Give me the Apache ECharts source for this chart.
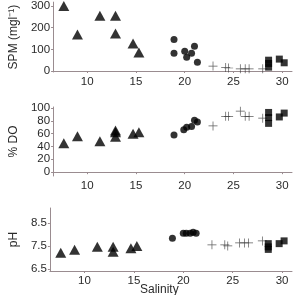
<!DOCTYPE html>
<html>
<head>
<meta charset="utf-8">
<script src="https://cdn.jsdelivr.net/npm/echarts@6/dist/echarts.min.js"></script>
<style>
  html, body { margin: 0; padding: 0; background: #fff; }
  #chart { width: 295px; height: 295px; }
</style>
</head>
<body>
<div id="chart"></div>
<script>
// salinity / value pairs per sampling group
const triSal = [7.6, 9.0, 11.3, 12.9, 12.9, 14.7, 15.3]
const triSPM = [300, 168, 255, 255, 173, 127, 86]
const triDOSal = [7.6, 9.0, 11.3, 12.9, 12.9, 12.9, 14.7, 15.3]
const triDO = [45, 56, 48, 62, 55, 65, 60, 62]
const triPHSal = [7.6, 9.0, 11.3, 12.9, 12.9, 14.7, 15.3]
const triPH = [7.2, 7.33, 7.46, 7.46, 7.25, 7.4, 7.5]

const cirSPMSal = [18.9, 18.9, 20.0, 20.2, 20.7, 21.0, 21.3]
const cirSPM = [145, 82, 91, 64, 82, 114, 41]
const cirDOSal = [18.9, 19.9, 20.2, 20.7, 21.0, 21.3]
const cirDO = [58, 66, 70, 71, 81, 78]
const cirPHSal = [18.9, 20.0, 20.3, 20.7, 21.0, 21.3]
const cirPH = [7.83, 8.05, 8.05, 8.05, 8.1, 8.05]

const crsSal = [22.9, 24.2, 24.5, 25.7, 26.2, 26.6, 28.0]
const crsSPM = [23, 16, 14, 10, 10, 10, 10]
const crsDO = [72, 87, 87, 95, 87, 87, 84]
const crsPH = [7.55, 7.55, 7.5, 7.63, 7.63, 7.63, 7.72]

const sqSal = [28.6, 28.6, 28.6, 29.7, 30.2]
const sqSPM = [50, 35, 18, 55, 38]
const sqDO = [93, 85, 76, 86, 92]
const sqPH = [7.6, 7.46, 7.35, 7.6, 7.72]

const xTicks = [10, 15, 20, 25, 30]
const spmTicks = [0, 100, 200, 300]
const doTicks = [0, 20, 40, 60, 80, 100]
const phTicks = [6.5, 7.5, 8.5]

const pairs = (xs, ys) => xs.map((x, i) => [x, ys[i]])

const axisColor = '#9a8c90'
const labelColor = '#2a2a2a'
const font = 'Liberation Sans'
const crossPath = 'path://M4.6,0H5.4V4.6H10V5.4H5.4V10H4.6V5.4H0V4.6H4.6Z'

const chart = echarts.init(document.getElementById('chart'))

const grids = [
  { left: 42, right: 3, top: 1, height: 71 },
  { left: 42, right: 3, top: 107, height: 69 },
  { left: 42, right: 3, top: 208, height: 63 }
]

const xAxes = grids.map((g, i) => ({
  type: 'value',
  gridIndex: i,
  min: 6.5,
  max: 31,
  splitLine: { show: false },
  axisLine: { lineStyle: { color: axisColor, width: 1 } },
  axisTick: { length: 2, customValues: xTicks, lineStyle: { color: axisColor } },
  axisLabel: { customValues: xTicks, color: labelColor, fontSize: 11.5, fontFamily: font, margin: 4 }
}))

const yAxis = (i, min, max, ticks, name) => ({
  type: 'value',
  gridIndex: i,
  min: min,
  max: max,
  name: name,
  nameLocation: 'middle',
  nameGap: 28,
  nameTextStyle: { color: labelColor, fontSize: 12, fontFamily: font },
  splitLine: { show: false },
  axisLine: { show: true, lineStyle: { color: axisColor, width: 1 } },
  axisTick: { length: 2, customValues: ticks, lineStyle: { color: axisColor } },
  axisLabel: { customValues: ticks, color: labelColor, fontSize: 11.5, fontFamily: font, margin: 3 }
})

const tri = { symbol: 'triangle', symbolSize: [11, 10], itemStyle: { color: '#000' } }
const cir = { symbol: 'circle', symbolSize: 7, itemStyle: { color: '#000' } }
const crs = { symbol: crossPath, symbolSize: 9, itemStyle: { color: '#333' } }
const sq = { symbol: 'rect', symbolSize: 7, itemStyle: { color: '#000' } }

const sc = (i, style, data) => Object.assign({
  type: 'scatter', xAxisIndex: i, yAxisIndex: i, data: data, silent: true, animation: false
}, style)

chart.setOption({
  animation: false,
  grid: grids,
  xAxis: xAxes,
  yAxis: [
    yAxis(0, -4.5, 318, spmTicks, 'SPM (mgl\u207B\u00B9)'),
    yAxis(1, -6, 101.5, doTicks, '% DO'),
    yAxis(2, 6.41, 9.15, phTicks, 'pH')
  ],
  graphic: [{
    type: 'text', left: 140, top: 284,
    style: { text: 'Salinity', fill: labelColor, fontSize: 12, fontFamily: font }
  }],
  series: [
    sc(0, tri, pairs(triSal, triSPM)),
    sc(0, cir, pairs(cirSPMSal, cirSPM)),
    sc(0, crs, pairs(crsSal, crsSPM)),
    sc(0, sq, pairs(sqSal, sqSPM)),
    sc(1, tri, pairs(triDOSal, triDO)),
    sc(1, cir, pairs(cirDOSal, cirDO)),
    sc(1, crs, pairs(crsSal, crsDO)),
    sc(1, sq, pairs(sqSal, sqDO)),
    sc(2, tri, pairs(triPHSal, triPH)),
    sc(2, cir, pairs(cirPHSal, cirPH)),
    sc(2, crs, pairs(crsSal, crsPH)),
    sc(2, sq, pairs(sqSal, sqPH))
  ]
})
</script>
</body>
</html>
